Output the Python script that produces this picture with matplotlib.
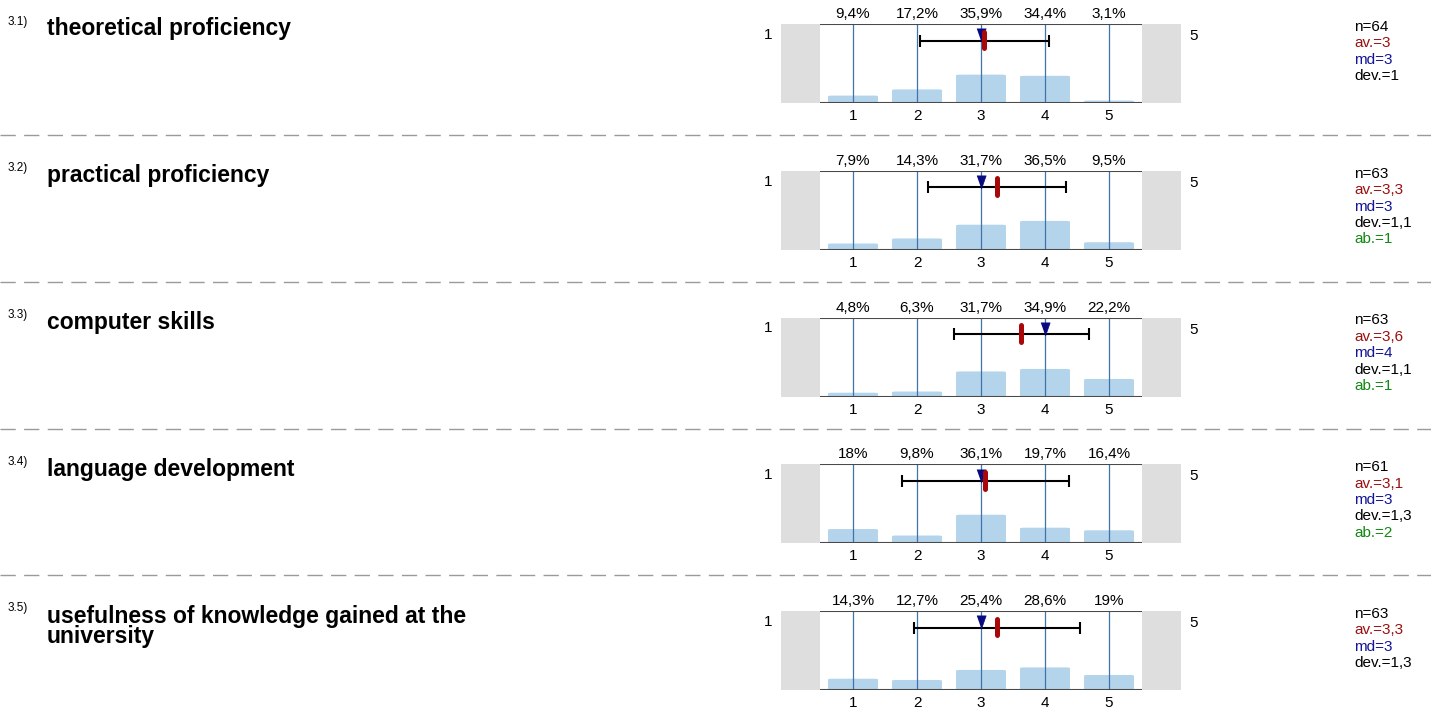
import numpy as np
import matplotlib.pyplot as plt
from matplotlib.patches import FancyBboxPatch

plt.rcParams['font.family'] = ['Liberation Sans', 'DejaVu Sans']

numbers = ['3.1)', '3.2)', '3.3)', '3.4)', '3.5)']
titles = ['theoretical proficiency', 'practical proficiency', 'computer skills',
          'language development', 'usefulness of knowledge gained at the\nuniversity']
cats = [1, 2, 3, 4, 5]
pcts = [
    [9.4, 17.2, 35.9, 34.4, 3.1],
    [7.9, 14.3, 31.7, 36.5, 9.5],
    [4.8, 6.3, 31.7, 34.9, 22.2],
    [18, 9.8, 36.1, 19.7, 16.4],
    [14.3, 12.7, 25.4, 28.6, 19],
]
means = [3.05, 3.25, 3.63, 3.07, 3.25]
devs = [1.01, 1.08, 1.05, 1.30, 1.30]
medians = [3, 3, 4, 3, 3]
n_vals = ['64', '63', '63', '61', '63']
av_txt = ['3', '3,3', '3,6', '3,1', '3,3']
md_txt = ['3', '3', '4', '3', '3']
dev_txt = ['1', '1,1', '1,1', '1,3', '1,3']
ab_txt = [None, '1', '1', '2', None]

W, H = 1431, 717
fig = plt.figure(figsize=(W / 100, H / 100), dpi=100)

def fx(px):
    return px / W

def fy(py):
    return 1 - py / H

bar_col = '#b4d4ec'
line_col = '#3f74aa'
gray = '#dedede'
lo, hi = 0.484, 5.516
tri = [(-0.42, 0.6), (0.42, 0.6), (0, -0.6)]

for i in range(5):
    top = 24 + i * 146.75
    bot = top + 79
    ax = fig.add_axes([fx(781), fy(bot), fx(1181) - fx(781), (bot - top) / H])
    ax.set_xlim(-0.125, 6.125)
    ax.set_ylim(0, 100)
    ax.axis('off')
    ax.axvspan(-0.125, lo, color=gray, lw=0)
    ax.axvspan(hi, 6.125, color=gray, lw=0)

    for c, p in zip(cats, pcts[i]):
        ax.add_patch(FancyBboxPatch((c - 0.39, 0), 0.78, p,
                                    boxstyle='round,pad=0,rounding_size=0.07',
                                    mutation_aspect=12, fc=bar_col, ec='none'))
        ax.plot([c, c], [0, 100], color=line_col, lw=0.9)
        lab = f'{p:g}'.replace('.', ',') + '%'
        fig.text(fx(853 + (c - 1) * 64), fy(top - 6), lab, ha='center',
                 va='baseline', fontsize=11)
        fig.text(fx(853 + (c - 1) * 64), fy(bot + 17), str(c), ha='center',
                 va='baseline', fontsize=11)

    ax.plot([lo, hi], [100, 100], color='#4a4a4a', lw=1.5, solid_capstyle='butt')
    ax.plot([lo, hi], [0, 0], color='#4a4a4a', lw=1.5, solid_capstyle='butt')

    # error bar: mean +/- dev
    ax.errorbar(means[i], 79, xerr=devs[i], fmt='none', ecolor='black',
                elinewidth=1.5, capsize=4, capthick=1.5)
    ax.plot(medians[i], 85.5, marker=tri, color='#0a0a80', ms=9.5, mec='#0a0a80',
            mew=0.5)
    ax.plot([means[i], means[i]], [69, 90.5], color='#a80808', lw=3.6,
            solid_capstyle='round')

    # left/right anchors
    fig.text(fx(768), fy(top + 15), '1', ha='center', va='baseline', fontsize=11)
    fig.text(fx(1194), fy(top + 16), '5', ha='center', va='baseline', fontsize=11)

    # question labels
    fig.text(fx(8), fy(top + 0.5), numbers[i], ha='left', va='baseline', fontsize=8.5)
    for j, line in enumerate(titles[i].split('\n')):
        fig.text(fx(47), fy(top + 11.5 + j * 21), line, ha='left', va='baseline',
                 fontsize=16.5, fontweight='bold')

    # stats
    stats = [('n=' + n_vals[i], 'black'), ('av.=' + av_txt[i], '#9a1010'),
             ('md=' + md_txt[i], '#141496'), ('dev.=' + dev_txt[i], 'black')]
    if ab_txt[i] is not None:
        stats.append(('ab.=' + ab_txt[i], '#118811'))
    for k, (s, col) in enumerate(stats):
        fig.text(fx(1354), fy(top + 7 + k * 16.4), s, ha='left', va='baseline',
                 fontsize=11, color=col)

    if i < 4:
        fig.add_artist(plt.Line2D([0, 1], [fy(top + 111)] * 2, color='#9a9a9a',
                                  lw=1, ls=(0, (11, 6))))

fig.savefig('out.png', dpi=100)
